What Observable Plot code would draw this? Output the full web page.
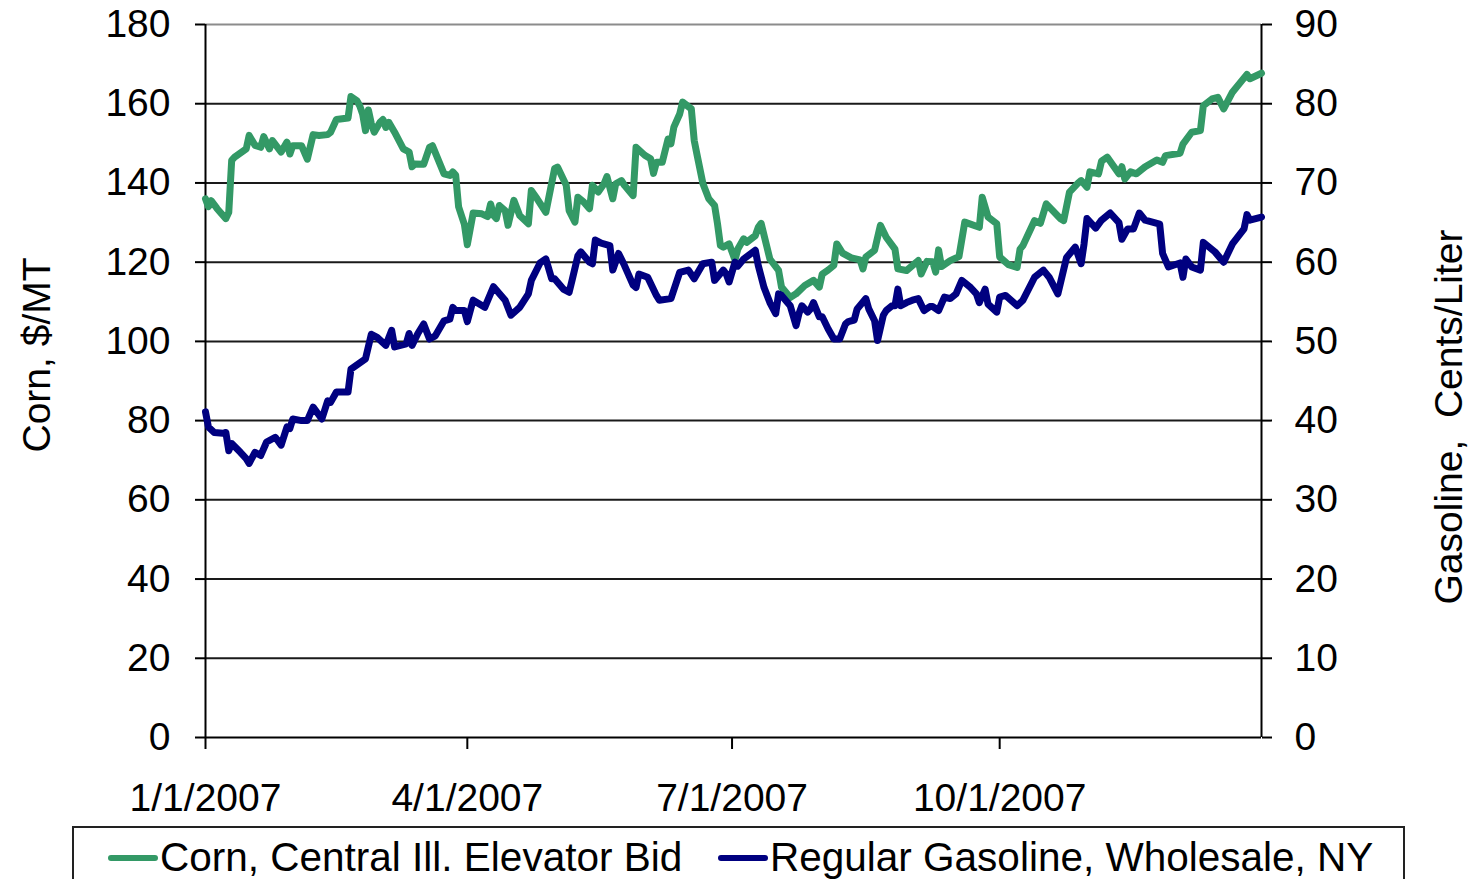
<!DOCTYPE html>
<html>
<head>
<meta charset="utf-8">
<script src="https://cdn.jsdelivr.net/npm/d3@7"></script>
<script src="https://cdn.jsdelivr.net/npm/@observablehq/plot@0.6"></script>
<style>
  html, body { margin: 0; padding: 0; background: #fff; overflow: hidden; }
  #chart { position: absolute; left: 0; top: 0; width: 1476px; height: 879px;
           font-family: "Liberation Sans", Arial, sans-serif; }
  .legend { position: absolute; left: 72px; top: 826px; width: 1329px; height: 80px;
            border: 2px solid #222; background: #fff; }
  .item { position: absolute; top: 9px; display: flex; align-items: center;
          font-size: 40.5px; line-height: 41px; color: #000; white-space: nowrap; }
  .swatch { display: inline-block; width: 50px; height: 6px; margin-right: 2px; border-radius: 3px; }
</style>
</head>
<body>
<div id="chart"></div>
<script>
const year = 2007;

// Corn, Central Ill. elevator bid ($/MT)
const cornDates = [
  "01-01","01-02","01-03","01-05","01-08","01-09","01-10","01-11","01-15","01-16","01-18","01-20","01-21","01-23","01-24","01-27","01-29","01-30","01-31",
  "02-03","02-05","02-07","02-09","02-12","02-13","02-15","02-19","02-20","02-22","02-23","02-24","02-25","02-26","02-27","02-28",
  "03-02","03-03","03-04","03-05","03-07","03-10","03-12","03-13","03-14","03-17","03-19","03-20","03-24","03-26","03-27","03-28","03-29","03-31",
  "04-01","04-03","04-06","04-08","04-09","04-10","04-11","04-12","04-14","04-15","04-17","04-19","04-22","04-23","04-25","04-28",
  "05-01","05-02","05-05","05-06","05-08","05-09","05-11","05-13","05-14","05-16","05-18","05-19","05-21","05-22","05-24","05-25","05-28","05-29",
  "06-01","06-03","06-04","06-05","06-07","06-09","06-10","06-11","06-13","06-14","06-17","06-18","06-19","06-21","06-23","06-25","06-26","06-27","06-28","06-30",
  "07-02","07-03","07-05","07-06","07-09","07-10","07-11","07-14","07-17","07-18","07-21","07-23","07-26","07-29","07-31",
  "08-01","08-03","08-05","08-06","08-08","08-11","08-14","08-15","08-16","08-19","08-21","08-23","08-26","08-27","08-30",
  "09-03","09-04","09-06","09-08","09-09","09-10","09-11","09-14","09-17","09-19","09-24","09-25","09-27","09-30",
  "10-01","10-04","10-07","10-08","10-09","10-13","10-15","10-17","10-22","10-23","10-25","10-28","10-29","10-31",
  "11-01","11-04","11-05","11-07","11-11","11-12","11-13","11-15","11-17","11-20","11-24","11-26","11-27",
  "12-02","12-03","12-06","12-09","12-10","12-13","12-15","12-17","12-20","12-25","12-26","12-30"
];
const cornValues = [
  136,134,135.5,133.5,131,132.6,145.7,146.5,148.6,152,149.5,149,151.7,148.6,150.7,147.8,150.3,147.3,149.4,
  149.4,146,152.2,152,152.2,152.8,156,156.4,161.8,160.8,159.5,157.4,153.2,158.4,155,152.8,
  155.3,156,154,155.3,152.8,148.6,147.8,144.1,144.8,144.7,149,149.4,142.3,141.9,142.8,142,134,129.5,
  124.4,132.4,132.2,131.5,134.7,131.8,131,134.3,133,129.3,135.6,131.8,129.7,138.1,136,132.6,
  143.6,144,139.4,133,130.1,136.4,135.2,133.5,139.4,137.7,139.8,141.6,136,139.8,140.6,139.4,136.8,149,
  147,146.1,142.4,145.2,145.2,151.1,149.9,154.1,157.4,160.4,158.7,150.7,147,139.8,136,134.3,129.7,124.2,123.8,124.6,
  120.6,123.3,125.9,125,126.7,128.8,129.8,120.8,117.9,113.7,111.1,112,114.1,115.4,113.7,
  117,118,119.2,124.6,122.3,121.1,120.6,118.3,121.3,123,129.3,126.3,123.3,118.3,117.9,
  120.4,117,120.2,120.1,117.5,123.1,118.9,120.4,121.4,130.1,128.8,136.4,131.4,129.7,
  121.3,119.4,118.7,123.3,124.2,130.5,129.8,134.7,130.9,130.5,137.7,140,140.6,138.9,
  142.8,142.3,145.5,146.5,142.3,144.1,141,142.8,142.3,144.1,145.8,145.2,146.9,
  147.5,149.8,152.8,153.2,159.5,161.2,161.6,158.7,162.9,167.4,166.3,167.7
];

// Regular gasoline, wholesale, NY (cents/liter)
const gasDates = [
  "01-01","01-02","01-04","01-07","01-08","01-09","01-10","01-13","01-15","01-16","01-18","01-20","01-22","01-25","01-27","01-29","01-30","01-31",
  "02-03","02-05","02-07","02-10","02-12","02-13","02-15","02-19","02-20","02-25","02-27",
  "03-01","03-04","03-06","03-07","03-11","03-12","03-13","03-15","03-17","03-19","03-21","03-24","03-26","03-27","03-28","03-31",
  "04-01","04-03","04-07","04-10","04-14","04-16","04-19","04-22","04-23","04-26","04-28","04-30",
  "05-01","05-04","05-06","05-07","05-09","05-10","05-13","05-14","05-15","05-17","05-20","05-21","05-23","05-25","05-28","05-29","05-30",
  "06-02","06-05","06-06","06-10","06-13","06-16","06-18","06-21","06-24","06-25","06-28","06-29","06-30",
  "07-02","07-03","07-05","07-09","07-10","07-12","07-14","07-16","07-17","07-18","07-21","07-23","07-24","07-25","07-27","07-28","07-29","07-31",
  "08-01","08-03","08-05","08-07","08-09","08-10","08-12","08-13","08-16","08-17","08-19","08-20","08-22","08-23","08-25","08-26","08-27","08-28","08-30",
  "09-01","09-03","09-05","09-07","09-08","09-10","09-12","09-14","09-16","09-18","09-21","09-23","09-24","09-26","09-27","09-30",
  "10-01","10-03","10-07","10-09","10-13","10-16","10-18","10-21","10-24","10-27","10-29","10-30","10-31",
  "11-03","11-05","11-08","11-11","11-12","11-14","11-16","11-18","11-20","11-25","11-26","11-28",
  "12-02","12-03","12-04","12-06","12-09","12-10","12-14","12-17","12-20","12-24","12-25","12-26","12-30"
];
const gasValues = [
  41.1,39.2,38.5,38.4,38.5,36.2,37.1,36,35.2,34.6,36,35.6,37.3,37.9,36.9,39.2,39,40.2,
  40,40,41.7,40.2,42.5,42.3,43.6,43.6,46.5,47.8,50.9,
  50.5,49.5,51.4,49.3,49.7,51,49.5,51,52.2,50.3,50.7,52.6,52.8,54.3,53.9,53.9,
  52.5,55.2,54.3,56.9,55.2,53.3,54.3,56,57.7,59.9,60.4,57.9,
  57.9,56.6,56.2,57.7,60.8,61.3,60,59.8,62.8,62.4,62.1,59,61.1,59.6,57.1,56.8,58.5,
  58.1,55.8,55.2,55.4,58.7,59,57.9,59.8,60,57.7,59,58.5,57.5,
  60,59.5,60.4,61.5,59.6,56.8,54.9,53.5,56,55.8,54.5,52,53.5,54.5,53.7,54.1,54.9,53.1,
  53.1,51.6,50.3,50.3,52.2,52.5,52.7,54.1,55.4,54.1,52.6,50.1,53.3,53.9,54.5,54.5,56.6,54.5,54.9,
  55.2,55.4,53.9,54.4,54.4,53.9,55.6,55.4,56,57.7,56.8,56,54.9,56.6,54.7,53.7,
  55.6,55.8,54.5,55.2,58.1,59,58.1,56,60.6,61.9,59.8,62.3,65.5,
  64.3,65.3,66.2,65,62.9,64.2,64.2,66.2,65.3,64.8,61.1,59.4,
  59.9,58.1,60.4,59.4,59,62.5,61.3,60,62.3,64.2,66,65.3,65.7
];

// Axis ticks
const cornTicks = [0, 20, 40, 60, 80, 100, 120, 140, 160, 180];
const dateTicks = ["01-01", "04-01", "07-01", "10-01"];
const dateRange = ["01-01", "12-30"];

const seriesNames = ["Corn, Central Ill. Elevator Bid", "Regular Gasoline, Wholesale, NY"];
const seriesColors = ["#339966", "#000080"];

// 180 $/MT on the left axis lines up with 90 cents/liter on the right
const ratio = 2;

const parse = s => new Date(`${year}-${s}T00:00:00Z`);
const corn = cornDates.map((d, i) => ({date: parse(d), value: cornValues[i]}));
const gas = gasDates.map((d, i) => ({date: parse(d), value: gasValues[i]}));
const fmtDate = d => `${d.getUTCMonth() + 1}/${d.getUTCDate()}/${d.getUTCFullYear()}`;
const [xStart, xEnd] = dateRange.map(parse);

const svg = Plot.plot({
  width: 1476,
  height: 826,
  marginTop: 24,
  marginLeft: 205,
  marginRight: 215,
  marginBottom: 89,
  style: {fontFamily: '"Liberation Sans", Arial, sans-serif', fontSize: "39px", color: "#000", background: "transparent", overflow: "visible"},
  x: {type: "utc", domain: [xStart, xEnd]},
  y: {domain: [0, 180]},
  marks: [
    Plot.ruleY(cornTicks.filter(v => v > 0 && v < 180), {stroke: "#1a1a1a", strokeWidth: 2}),
    Plot.ruleY([180], {stroke: "#8c8c8c", strokeWidth: 2}),
    Plot.ruleY([0], {stroke: "#000", strokeWidth: 2}),
    Plot.ruleX([xStart, xEnd], {stroke: "#000", strokeWidth: 2}),
    Plot.axisX({ticks: dateTicks.map(parse), tickSize: 12, tickPadding: 34, tickFormat: fmtDate, label: null, strokeWidth: 2}),
    Plot.axisY({anchor: "left", ticks: cornTicks, tickSize: 10, tickPadding: 25, label: null, strokeWidth: 2}),
    Plot.axisY({anchor: "right", ticks: cornTicks, tickSize: 10, tickPadding: 23, tickFormat: v => String(v / ratio), label: null, strokeWidth: 2}),
    Plot.line(corn, {x: "date", y: "value", stroke: seriesColors[0], strokeWidth: 7, strokeLinejoin: "round"}),
    Plot.line(gas, {x: "date", y: d => d.value * ratio, stroke: seriesColors[1], strokeWidth: 7, strokeLinejoin: "round"})
  ]
});

// Axis titles, rotated to read upward
const s = d3.select(svg);
s.append("text")
  .attr("transform", "translate(50,355) rotate(-90)")
  .attr("text-anchor", "middle")
  .attr("fill", "#000")
  .style("font-size", "39px")
  .text("Corn, $/MT");
s.append("text")
  .attr("transform", "translate(1462,417) rotate(-90)")
  .attr("text-anchor", "middle")
  .attr("fill", "#000")
  .style("font-size", "39px")
  .text("Gasoline,\u00a0 Cents/Liter");

const chart = document.getElementById("chart");
chart.appendChild(svg);

// Legend box below the plot
const legend = document.createElement("div");
legend.className = "legend";
const itemLeft = [34, 644];
seriesNames.forEach((name, i) => {
  const item = document.createElement("div");
  item.className = "item";
  item.style.left = itemLeft[i] + "px";
  const sw = document.createElement("span");
  sw.className = "swatch";
  sw.style.background = seriesColors[i];
  const label = document.createElement("span");
  label.textContent = name;
  item.appendChild(sw);
  item.appendChild(label);
  legend.appendChild(item);
});
chart.appendChild(legend);
</script>
</body>
</html>
